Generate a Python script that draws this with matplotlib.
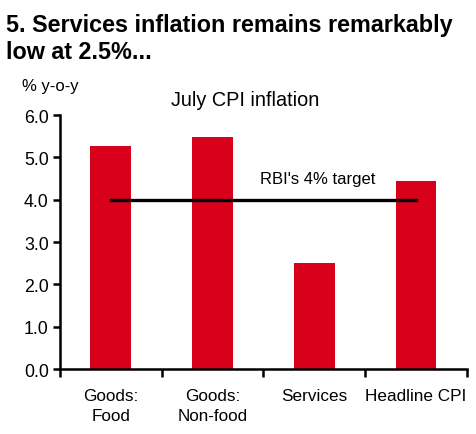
import matplotlib
matplotlib.use("Agg")
import matplotlib.pyplot as plt
import numpy as np

categories = ["Goods:\nFood", "Goods:\nNon-food", "Services", "Headline CPI"]
values = [5.26, 5.49, 2.50, 4.44]
target = 4.0
yticks = [0.0, 1.0, 2.0, 3.0, 4.0, 5.0, 6.0]

plt.rcParams["font.family"] = ["Liberation Sans", "DejaVu Sans"]

fig = plt.figure(figsize=(4.76, 4.35), dpi=100)
ax = fig.add_axes([0.126, 0.1494, 0.855, 0.5839])

x = np.arange(len(categories))
ax.bar(x, values, width=0.4, color="#D9001B", zorder=2)
ax.plot([x[0], x[-1]], [target, target], color="black", linewidth=2.4, zorder=3)
ax.text(2.03, 4.5, "RBI's 4% target", ha="center", va="center", fontsize=12)

ax.set_xlim(-0.5, len(categories) - 0.5)
ax.set_ylim(0, 6)
ax.set_yticks(yticks)
ax.set_yticklabels([f"{v:.1f}" for v in yticks], fontsize=12.8)
ax.tick_params(axis="y", direction="out", length=5, width=1.8, pad=3)

ax.set_xticks(np.arange(len(categories) + 1) - 0.5)
ax.set_xticklabels([])
ax.tick_params(axis="x", which="major", direction="out", length=6, width=1.8)
ax.set_xticks(x, minor=True)
ax.set_xticklabels(categories, minor=True, fontsize=12.3, linespacing=1.35)
ax.tick_params(axis="x", which="minor", length=0, pad=14)

for s in ["top", "right"]:
    ax.spines[s].set_visible(False)
for s in ["left", "bottom"]:
    ax.spines[s].set_linewidth(1.8)

fig.text(0.012, 0.968, "5. Services inflation remains remarkably\nlow at 2.5%...",
         ha="left", va="top", fontsize=16.8, fontweight="bold", linespacing=1.2)
fig.text(0.046, 0.802, "% y-o-y", ha="left", va="center", fontsize=12)
fig.text(0.515, 0.77, "July CPI inflation", ha="center", va="center", fontsize=14.3)

fig.savefig("out.png", dpi=100)
